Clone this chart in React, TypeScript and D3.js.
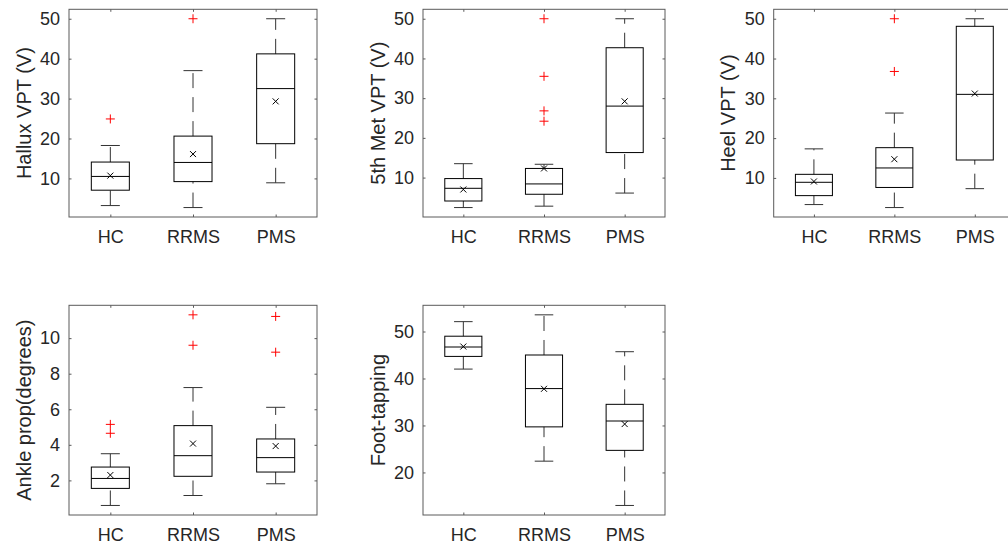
import React, { useEffect, useRef } from "react";
import * as d3 from "d3";

const groups = ["HC", "RRMS", "PMS"];

// each row: [lower whisker, q1, median, q3, upper whisker, mean]
const halluxStats = [
  [3.2, 7.05, 10.5, 14.1, 18.25, 10.7],
  [2.7, 9.2, 14.0, 20.6, 37.0, 16.1],
  [8.9, 18.7, 32.5, 41.2, 50.0, 29.3],
];
const halluxOutliers = [[24.9], [50.0], []];

const metStats = [
  [2.45, 4.1, 7.3, 9.75, 13.5, 7.0],
  [2.8, 5.8, 8.4, 12.3, 13.35, 12.3],
  [6.1, 16.3, 28.0, 42.7, 50.0, 29.2],
];
const metOutliers = [[], [50.0, 35.5, 26.8, 24.2], []];

const heelStats = [
  [3.3, 5.55, 8.9, 10.9, 17.3, 9.1],
  [2.55, 7.6, 12.5, 17.6, 26.3, 14.7],
  [7.3, 14.5, 31.0, 48.1, 50.0, 31.2],
];
const heelOutliers = [[], [50.0, 36.75], []];

const ankleStats = [
  [0.59, 1.55, 2.11, 2.75, 3.5, 2.3],
  [1.15, 2.23, 3.39, 5.08, 7.22, 4.07],
  [1.81, 2.47, 3.28, 4.33, 6.11, 3.93],
];
const ankleOutliers = [[5.15, 4.65], [11.31, 9.6], [11.22, 9.21]];

const tappingStats = [
  [42.0, 44.7, 46.7, 49.0, 52.1, 46.8],
  [22.4, 29.7, 37.85, 45.0, 53.55, 37.8],
  [12.97, 24.7, 30.95, 34.5, 45.7, 30.3],
];
const tappingOutliers = [[], [], []];

const vptTicks = [10, 20, 30, 40, 50];
const ankleTicks = [2, 4, 6, 8, 10];
const tappingTicks = [20, 30, 40, 50];

const panels = [
  { label: "Hallux VPT (V)", stats: halluxStats, outliers: halluxOutliers, ticks: vptTicks },
  { label: "5th Met VPT (V)", stats: metStats, outliers: metOutliers, ticks: vptTicks },
  { label: "Heel VPT (V)", stats: heelStats, outliers: heelOutliers, ticks: vptTicks },
  { label: "Ankle prop(degrees)", stats: ankleStats, outliers: ankleOutliers, ticks: ankleTicks },
  { label: "Foot-tapping", stats: tappingStats, outliers: tappingOutliers, ticks: tappingTicks },
];

// axes rectangles in page pixels
const frames = [
  { left: 69, right: 317, top: 9.3, bottom: 217 },
  { left: 423, right: 665, top: 9.3, bottom: 217 },
  { left: 773.7, right: 1015, top: 9.3, bottom: 217 },
  { left: 69, right: 317, top: 305.3, bottom: 515 },
  { left: 423, right: 665, top: 305.3, bottom: 515 },
];

const FONT = "'Liberation Sans', Arial, Helvetica, sans-serif";
const TEXT = "#262626";
const AXIS = "#5a5a5a";

export default function App() {
  const ref = useRef<SVGSVGElement | null>(null);

  useEffect(() => {
    if (!ref.current) return;
    const svg = d3.select(ref.current);
    svg.selectAll("*").remove();

    panels.forEach((p, k) => {
      const f = frames[k];
      const g = svg.append("g");

      const x = d3.scalePoint<string>().domain(groups).range([f.left, f.right]).padding(0.5);
      const vals = p.stats.flatMap((s) => [s[0], s[4]]).concat(p.outliers.flat());
      const lo = d3.min(vals) as number;
      const hi = d3.max(vals) as number;
      const pad = (hi - lo) * 0.05;
      const y = d3.scaleLinear().domain([lo - pad, hi + pad]).range([f.bottom, f.top]);

      const styleAxis = (sel: any) => {
        sel.select(".domain").remove();
        sel.selectAll(".tick line").attr("stroke", AXIS);
        sel.selectAll("text").attr("fill", TEXT);
        sel.attr("font-family", FONT).attr("font-size", 18);
      };

      g.append("g")
        .attr("transform", `translate(${f.left},0)`)
        .call(d3.axisLeft(y).tickValues(p.ticks).tickSizeInner(-2.5).tickSizeOuter(0).tickPadding(9))
        .call(styleAxis);
      g.append("g")
        .attr("transform", `translate(${f.right},0)`)
        .call(d3.axisRight(y).tickValues(p.ticks).tickFormat(() => "").tickSizeInner(-2.5).tickSizeOuter(0))
        .call(styleAxis);
      g.append("g")
        .attr("transform", `translate(0,${f.bottom})`)
        .call(d3.axisBottom(x).tickSizeInner(-2.5).tickSizeOuter(0).tickPadding(13.5))
        .call(styleAxis);
      g.append("g")
        .attr("transform", `translate(0,${f.top})`)
        .call(d3.axisTop(x).tickFormat(() => "").tickSizeInner(-2.5).tickSizeOuter(0))
        .call(styleAxis);

      g.append("rect")
        .attr("x", f.left)
        .attr("y", f.top)
        .attr("width", f.right - f.left)
        .attr("height", f.bottom - f.top)
        .attr("fill", "none")
        .attr("stroke", AXIS)
        .attr("stroke-width", 1);

      g.append("text")
        .attr("transform", `translate(${f.left - 38.5},${(f.top + f.bottom) / 2}) rotate(-90)`)
        .attr("text-anchor", "middle")
        .attr("font-family", FONT)
        .attr("font-size", 20)
        .attr("fill", TEXT)
        .text(p.label);

      const half = x.step() * 0.23;
      const cap = half / 2;

      p.stats.forEach((s, i) => {
        const cx = x(groups[i]) as number;
        const [wLo, q1, med, q3, wHi, mean] = s;
        const bg = g.append("g").attr("stroke", "#000").attr("stroke-width", 1).attr("fill", "none");

        // whiskers are drawn from the lower value upwards
        bg.append("line").attr("x1", cx).attr("x2", cx).attr("y1", y(wLo)).attr("y2", y(q1))
          .attr("stroke", "#333").attr("stroke-dasharray", "15,9");
        bg.append("line").attr("x1", cx).attr("x2", cx).attr("y1", y(q3)).attr("y2", y(wHi))
          .attr("stroke", "#333").attr("stroke-dasharray", "15,9");
        bg.append("line").attr("x1", cx - cap).attr("x2", cx + cap).attr("y1", y(wLo)).attr("y2", y(wLo)).attr("stroke", "#333");
        bg.append("line").attr("x1", cx - cap).attr("x2", cx + cap).attr("y1", y(wHi)).attr("y2", y(wHi)).attr("stroke", "#333");

        bg.append("rect")
          .attr("x", cx - half)
          .attr("y", y(q3))
          .attr("width", half * 2)
          .attr("height", y(q1) - y(q3));
        bg.append("line").attr("x1", cx - half).attr("x2", cx + half).attr("y1", y(med)).attr("y2", y(med));

        const my = y(mean);
        const m = 3;
        bg.append("path").attr("d", `M${cx - m},${my - m}L${cx + m},${my + m}M${cx - m},${my + m}L${cx + m},${my - m}`);

        p.outliers[i].forEach((o) => {
          const oy = y(o);
          const r = 4.5;
          g.append("path")
            .attr("d", `M${cx - r},${oy}L${cx + r},${oy}M${cx},${oy - r}L${cx},${oy + r}`)
            .attr("stroke", "#ff0000")
            .attr("stroke-width", 1)
            .attr("fill", "none");
        });
      });
    });
  }, []);

  return (
    <svg
      ref={ref}
      width={1008}
      height={546}
      style={{ position: "absolute", left: 0, top: 0, background: "#fff" }}
    />
  );
}
